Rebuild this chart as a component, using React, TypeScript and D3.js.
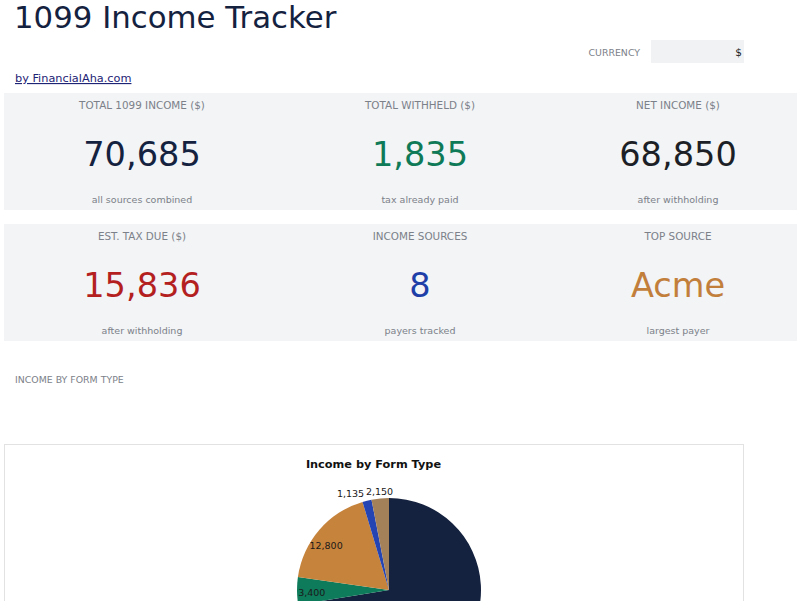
import { useMemo } from 'react';
import * as d3 from 'd3';

// KPI cards, row by row
const cardLabels = [
  ['TOTAL 1099 INCOME ($)', 'TOTAL WITHHELD ($)', 'NET INCOME ($)'],
  ['EST. TAX DUE ($)', 'INCOME SOURCES', 'TOP SOURCE'],
];
const cardValues = [
  ['70,685', '1,835', '68,850'],
  ['15,836', '8', 'Acme'],
];
const cardNotes = [
  ['all sources combined', 'tax already paid', 'after withholding'],
  ['after withholding', 'payers tracked', 'largest payer'],
];
const cardColors = [
  ['#15223f', '#0f7a57', '#1c1f26'],
  ['#b41f1f', '#1f3fa8', '#c27f3c'],
];

// pie: income by form type (clockwise from 12 o'clock)
const formTypes = ['1099-NEC', '1099-INT', '1099-MISC', '1099-DIV', '1099-K'];
const formIncome = [51200, 3400, 12800, 1135, 2150];
const formColors = ['#15223f', '#0e7b5a', '#c6833b', '#2544b3', '#a48159'];

const W = 800;
const H = 601;
const FONT = '"DejaVu Sans", Verdana, sans-serif';
const GRAY = '#7c8189';

export default function App() {
  const colX = [142, 420, 678];
  const rowY = [93, 224];
  const rowH = 117;

  const cx = 389;
  const cy = 590;
  const r = 92;

  const slices = useMemo(() => {
    const pie = d3.pie<number>().sort(null).value((d) => d);
    const arcs = pie(formIncome);
    const arc = d3.arc<d3.PieArcDatum<number>>().innerRadius(0).outerRadius(r);
    const fmt = d3.format(',');
    const labels = arcs.map((a, i) => {
      const span = ((a.endAngle - a.startAngle) * 180) / Math.PI;
      // inside labels sit a little ahead of the mid angle, near the rim
      const mid = inside(span) ? a.startAngle + (a.endAngle - a.startAngle) * 0.42 : (a.startAngle + a.endAngle) / 2;
      const lr = inside(span) ? r * 0.84 : r * 1.08;
      const text = fmt(formIncome[i]);
      return { x: Math.sin(mid) * lr, y: -Math.cos(mid) * lr, text, w: text.length * 5.6, inside: inside(span) };
    });
    // push overlapping outside labels apart (right to left)
    const outside = labels.filter((l) => !l.inside).sort((a, b) => b.x - a.x);
    for (let i = 1; i < outside.length; i++) {
      const prev = outside[i - 1];
      const cur = outside[i];
      const minGap = (prev.w + cur.w) / 2 + 1;
      if (prev.x - cur.x < minGap) cur.x = prev.x - minGap;
    }
    return arcs.map((a, i) => ({ d: arc(a) ?? '', color: formColors[i], key: formTypes[i], label: labels[i] }));
  }, []);

  return (
    <svg
      width={W}
      height={H}
      viewBox={`0 0 ${W} ${H}`}
      style={{ position: 'absolute', left: 0, top: 0, fontFamily: FONT, background: '#fff' }}
    >
      <text x={14} y={28} fontSize={30.8} fill="#15223f">
        1099 Income Tracker
      </text>

      <text x={640} y={56} fontSize={9.4} fill={GRAY} textAnchor="end">
        CURRENCY
      </text>
      <rect x={651} y={40} width={93} height={23} fill="#f0f2f4" />
      <text x={742} y={56} fontSize={10.5} fill="#222" textAnchor="end">
        $
      </text>

      <text x={15} y={82} fontSize={11.3} fill="#1d2375" textDecoration="underline">
        by FinancialAha.com
      </text>

      {rowY.map((y0, ri) => (
        <g key={ri}>
          <rect x={4} y={y0} width={793} height={rowH} fill="#f2f4f6" />
          {colX.map((x, ci) => (
            <g key={ci} textAnchor="middle">
              <text x={x} y={y0 + 16} fontSize={10.4} fill={GRAY}>
                {cardLabels[ri][ci]}
              </text>
              <text x={x} y={y0 + 73} fontSize={33.6} fill={cardColors[ri][ci]}>
                {cardValues[ri][ci]}
              </text>
              <text x={x} y={y0 + 110} fontSize={9.5} fill={GRAY}>
                {cardNotes[ri][ci]}
              </text>
            </g>
          ))}
        </g>
      ))}

      <text x={15} y={383} fontSize={9.4} fill={GRAY}>
        INCOME BY FORM TYPE
      </text>

      <rect x={4.5} y={444.5} width={739} height={200} fill="#fff" stroke="#e2e2e2" />
      <text x={373.5} y={467.5} fontSize={11.3} fontWeight="bold" fill="#111" textAnchor="middle">
        Income by Form Type
      </text>

      <g transform={`translate(${cx},${cy})`}>
        {slices.map((s) => (
          <path key={s.key} d={s.d} fill={s.color} />
        ))}
        {slices.map((s) => (
          <text
            key={s.key + '-l'}
            x={s.label.x}
            y={s.label.y}
            fontSize={9.5}
            fill="#1a1a1a"
            textAnchor="middle"
            dominantBaseline="central"
          >
            {s.label.text}
          </text>
        ))}
      </g>
    </svg>
  );
}

function inside(spanDeg: number) {
  return spanDeg > 15;
}
